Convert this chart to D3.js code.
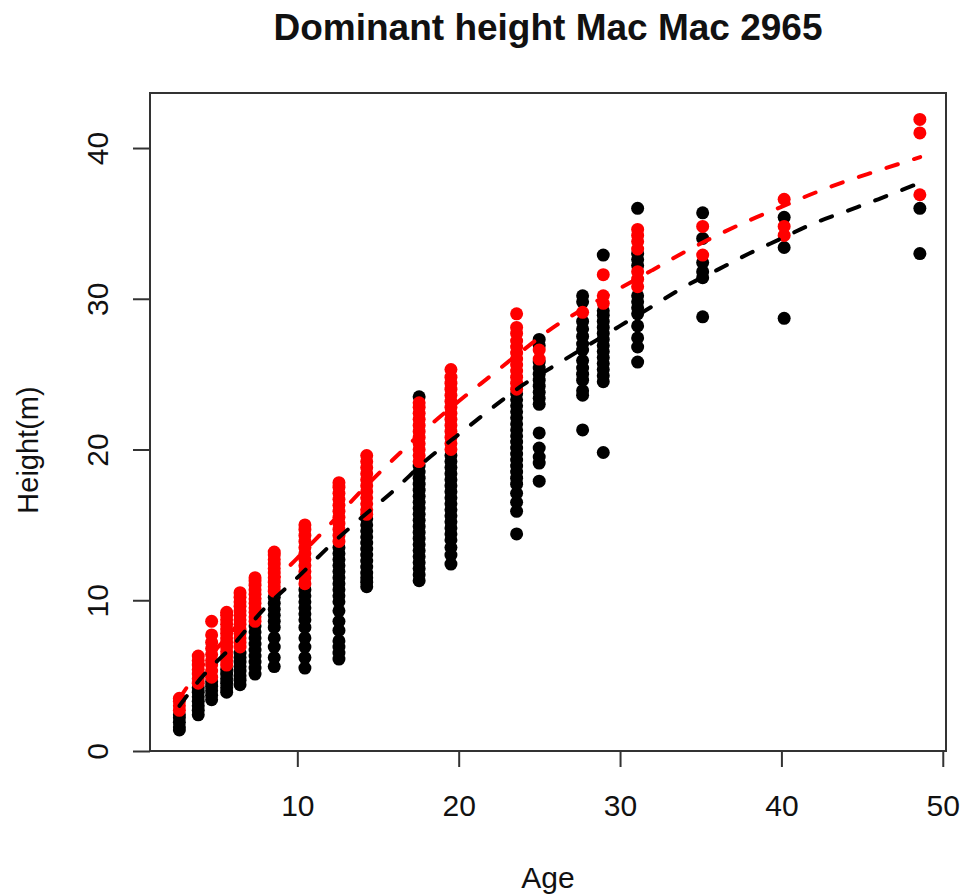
<!DOCTYPE html>
<html>
<head>
<meta charset="utf-8">
<script src="https://cdn.jsdelivr.net/npm/d3@7"></script>
<style>
  body { margin: 0; background: #fff; }
  text { font-family: "Liberation Sans", Arial, sans-serif; fill: #111; }
</style>
</head>
<body>
<svg id="chart" width="960" height="895"></svg>
<script>
// Stand age classes (years)
const ageClasses = [2.69, 3.86, 4.69, 5.62, 6.45, 7.38, 8.57, 10.47, 12.58, 14.3,
                    17.55, 19.52, 23.59, 24.99, 27.68, 28.96, 31.09, 35.12, 40.17, 48.58];

// Heights (m) of all measured trees, one list per age class
const allTreeHeights = [
  [1.4, 1.6, 1.9, 2.2, 2.4],
  [2.4, 2.7, 3.0, 3.3, 3.6, 3.9, 4.2],
  [3.4, 3.7, 4.0, 4.3, 4.6],
  [3.9, 4.2, 4.5, 4.8, 5.1, 5.4],
  [4.4, 4.7, 5.0, 5.3, 5.6, 5.9, 6.2, 6.5],
  [5.1, 5.5, 5.9, 6.3, 6.7, 7.1, 7.5, 7.9, 8.3],
  [5.6, 6.2, 6.9, 7.5, 8.2, 8.6, 9.0, 9.4, 9.8, 10.2],
  [5.5, 6.2, 6.9, 7.5, 8.2, 8.7, 9.1, 9.5, 9.9, 10.3, 10.7],
  [6.1, 6.5, 6.9, 7.3, 8.0, 8.6, 9.3, 9.9, 10.3, 10.7, 11.1, 11.5, 11.9, 12.3, 12.7, 13.1, 13.5],
  [10.9, 11.2, 11.5, 11.8, 12.2, 12.6, 13.0, 13.4, 13.8, 14.2, 14.6, 15.0, 15.4],
  [11.3, 11.7, 12.1, 12.5, 12.9, 13.3, 13.7, 14.1, 14.5, 14.9, 15.3, 15.7, 16.1, 16.5, 16.9, 17.3, 17.7, 18.1, 18.5, 18.9, 23.5],
  [12.4, 13.0, 13.5, 14.0, 14.4, 14.8, 15.2, 15.6, 16.0, 16.4, 16.8, 17.2, 17.6, 18.0, 18.4, 18.8, 19.2, 19.6],
  [14.4, 15.9, 16.5, 17.1, 17.7, 18.1, 18.5, 18.9, 19.3, 19.7, 20.1, 20.5, 20.9, 21.3, 21.7, 22.1, 22.5, 22.9, 23.3, 23.7],
  [17.9, 19.1, 19.5, 20.1, 21.1, 23.0, 23.4, 23.8, 24.2, 24.6, 25.0, 25.4, 25.8, 26.9, 27.3],
  [21.3, 23.6, 23.9, 24.6, 25.0, 25.4, 25.9, 26.6, 27.0, 27.5, 28.0, 28.5, 29.8, 30.2],
  [19.8, 24.5, 24.9, 25.3, 25.7, 26.1, 26.5, 26.9, 27.3, 27.7, 28.1, 28.5, 28.9, 29.2, 32.9],
  [25.8, 26.8, 27.4, 28.2, 29.0, 29.4, 29.8, 30.2, 32.2, 32.6, 33.0, 36.0],
  [28.8, 31.4, 31.8, 32.4, 34.0, 35.7],
  [28.7, 33.4, 35.4],
  [33.0, 36.0]
];

// Heights (m) of dominant trees, one list per age class
const dominantHeights = [
  [2.7, 3.0, 3.3, 3.5],
  [4.5, 4.8, 5.1, 5.4, 5.7, 6.0, 6.3],
  [4.9, 5.3, 5.7, 6.0, 6.4, 6.8, 7.2, 7.7, 8.6],
  [5.7, 6.0, 6.3, 6.6, 6.9, 7.2, 7.5, 7.8, 8.1, 8.4, 8.7, 9.0, 9.2],
  [6.9, 7.2, 7.5, 7.8, 8.1, 8.4, 8.7, 9.0, 9.3, 9.6, 9.9, 10.2, 10.5],
  [8.6, 8.9, 9.2, 9.5, 9.8, 10.1, 10.4, 10.7, 11.0, 11.3, 11.5],
  [10.6, 10.9, 11.2, 11.5, 11.8, 12.1, 12.4, 12.7, 13.0, 13.2],
  [11.1, 11.5, 11.9, 12.3, 12.7, 13.1, 13.5, 13.9, 14.3, 14.7, 15.0],
  [13.9, 14.3, 14.7, 15.1, 15.5, 15.9, 16.3, 16.7, 17.1, 17.5, 17.8],
  [15.7, 16.0, 16.4, 16.8, 17.2, 17.6, 18.0, 18.4, 18.8, 19.2, 19.6],
  [19.2, 19.6, 20.0, 20.4, 20.8, 21.2, 21.6, 22.0, 22.4, 22.8, 23.1],
  [20.0, 20.4, 20.8, 21.2, 21.6, 22.0, 22.4, 22.8, 23.2, 23.6, 24.0, 24.4, 24.8, 25.3],
  [24.0, 24.4, 24.8, 25.2, 25.6, 26.0, 26.4, 26.8, 27.2, 27.7, 28.1, 29.0],
  [26.0, 26.6],
  [29.1],
  [29.7, 30.2, 31.6],
  [30.8, 31.3, 31.8, 33.3, 33.8, 34.2, 34.6],
  [32.9, 34.8],
  [34.2, 34.8, 36.6],
  [36.9, 41.0, 41.9]
];

// Fitted height-age curves (all trees / dominant trees)
const fitAllAges    = [2.7, 4, 6, 8, 10, 12, 14, 16, 18, 20, 22, 24, 26, 28, 30, 32, 34, 36, 38, 40, 42, 44, 46, 48.6];
const fitAllHeights = [3.0, 4.8, 7.0, 9.5, 11.5, 13.6, 15.5, 17.3, 19.3, 21.0, 22.7, 24.3, 25.6, 26.9, 28.2, 29.5, 30.8, 31.9, 33.0, 34.0, 35.0, 35.8, 36.6, 37.7];
const fitDomAges    = [2.7, 4, 6, 8, 10, 12, 14, 16, 18, 20, 22, 24, 26, 28, 30, 32, 34, 36, 38, 40, 42, 44, 46, 48.6];
const fitDomHeights = [3.5, 5.5, 8.0, 10.6, 12.8, 15.0, 17.3, 19.4, 21.4, 23.2, 24.9, 26.6, 28.2, 29.5, 30.7, 31.9, 33.1, 34.2, 35.2, 36.1, 37.0, 37.8, 38.5, 39.4];

const xTicks = [10, 20, 30, 40, 50];
const yTicks = [0, 10, 20, 30, 40];

const titleText = "Dominant height Mac Mac 2965";
const xLabel = "Age";
const yLabel = "Height(m)";

const svg = d3.select("#chart");
const box = { left: 150, right: 946, top: 93, bottom: 751 };

const x = d3.scaleLinear().domain([0.87, 50.2]).range([box.left, box.right]);
const y = d3.scaleLinear().domain([0, 43.65]).range([box.bottom, box.top]);

// flatten the per-class lists into points
const allPts = [];
ageClasses.forEach((a, i) => allTreeHeights[i].forEach(h => allPts.push({ a, h })));
const domPts = [];
ageClasses.forEach((a, i) => dominantHeights[i].forEach(h => domPts.push({ a, h })));

const R = 6.5;
svg.append("g").selectAll("circle").data(allPts).join("circle")
  .attr("cx", d => x(d.a)).attr("cy", d => y(d.h)).attr("r", R).attr("fill", "#000");
svg.append("g").selectAll("circle").data(domPts).join("circle")
  .attr("cx", d => x(d.a)).attr("cy", d => y(d.h)).attr("r", R).attr("fill", "#ff0000");

const line = d3.line().x(d => x(d[0])).y(d => y(d[1])).curve(d3.curveMonotoneX);
svg.append("path")
  .attr("d", line(fitAllAges.map((a, i) => [a, fitAllHeights[i]])))
  .attr("fill", "none").attr("stroke", "#000").attr("stroke-width", 4)
  .attr("stroke-dasharray", "12,17").attr("stroke-linecap", "round");
svg.append("path")
  .attr("d", line(fitDomAges.map((a, i) => [a, fitDomHeights[i]])))
  .attr("fill", "none").attr("stroke", "#ff0000").attr("stroke-width", 4)
  .attr("stroke-dasharray", "12,17").attr("stroke-linecap", "round");

// plot frame
svg.append("rect")
  .attr("x", box.left).attr("y", box.top)
  .attr("width", box.right - box.left).attr("height", box.bottom - box.top)
  .attr("fill", "none").attr("stroke", "#333").attr("stroke-width", 2);

// axes
const xAxis = d3.axisBottom(x).tickValues(xTicks).tickSize(16).tickPadding(28);
const gx = svg.append("g").attr("transform", `translate(0,${box.bottom})`).call(xAxis);
gx.select(".domain").remove();
gx.selectAll(".tick line").attr("stroke", "#333").attr("stroke-width", 2);
gx.selectAll(".tick text").attr("font-size", 30).attr("fill", "#111")
  .attr("font-family", "'Liberation Sans', Arial, sans-serif");

const yAxis = d3.axisLeft(y).tickValues(yTicks).tickSize(17).tickPadding(0);
const gy = svg.append("g").attr("transform", `translate(${box.left},0)`).call(yAxis);
gy.select(".domain").remove();
gy.selectAll(".tick line").attr("stroke", "#333").attr("stroke-width", 2);
gy.selectAll(".tick text").remove();
gy.selectAll(".tick").append("text")
  .attr("transform", "translate(-42,0) rotate(-90)")
  .attr("text-anchor", "middle")
  .attr("font-size", 30).attr("fill", "#111")
  .attr("font-family", "'Liberation Sans', Arial, sans-serif")
  .text(d => d);

// titles
svg.append("text").attr("x", (box.left + box.right) / 2).attr("y", 40)
  .attr("text-anchor", "middle").attr("font-size", 37).attr("font-weight", "bold")
  .text(titleText);
svg.append("text").attr("x", (box.left + box.right) / 2).attr("y", 888)
  .attr("text-anchor", "middle").attr("font-size", 30).text(xLabel);
svg.append("text").attr("transform", `translate(38,450) rotate(-90)`)
  .attr("text-anchor", "middle").attr("font-size", 29).text(yLabel);
</script>
</body>
</html>
